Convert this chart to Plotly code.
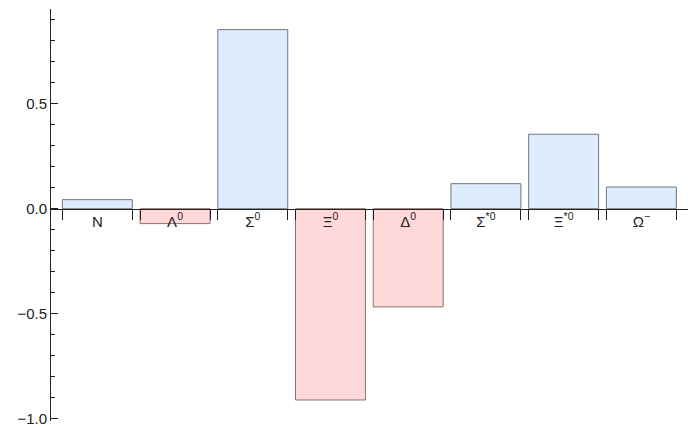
import plotly.graph_objects as go

# particle labels and values
labels = ["N", "Λ<sup>0</sup>", "Σ<sup>0</sup>", "Ξ<sup>0</sup>", "Δ<sup>0</sup>",
          "Σ<sup>*0</sup>", "Ξ<sup>*0</sup>", "Ω<sup>−</sup>"]
values = [0.043, -0.071, 0.852, -0.910, -0.467, 0.119, 0.354, 0.103]

pos_fill = "rgb(222,237,253)"
neg_fill = "rgb(255,216,218)"
bar_w = 0.9
y_min, y_max = -1.01, 0.95
x_rng = [-0.596, 7.60]

xs = list(range(len(values)))
fills = [pos_fill if v >= 0 else neg_fill for v in values]
edge_cols = ["rgb(110,118,128)" if v >= 0 else "rgb(140,112,112)" for v in values]
edges = []
for i in xs:
    edges += [i - bar_w / 2, i + bar_w / 2]

zero_pos = (0 - y_min) / (y_max - y_min)
font = dict(family="Liberation Sans, Arial, sans-serif", size=15, color="#222")

fig = go.Figure()
fig.add_trace(go.Bar(
    x=xs, y=values, width=bar_w,
    marker=dict(color=fills, line=dict(color=edge_cols, width=1)),
    hoverinfo="skip",
))

fig.update_layout(
    template="none",
    width=693, height=428,
    margin=dict(l=51, r=5, t=9, b=7),
    paper_bgcolor="white", plot_bgcolor="white",
    showlegend=False,
    font=font,
    xaxis=dict(
        range=x_rng, anchor="free", position=zero_pos,
        showline=True, linecolor="#222", linewidth=1,
        tickmode="array", tickvals=edges, showticklabels=False,
        ticks="outside", ticklen=10, tickcolor="#222",
        showgrid=False, zeroline=False, automargin=False,
    ),
    xaxis2=dict(
        range=x_rng, overlaying="x", anchor="free", position=zero_pos, side="bottom",
        tickmode="array", tickvals=xs, ticktext=labels,
        ticks="", showline=False, showgrid=False, zeroline=False,
        ticklabelstandoff=2, automargin=False, tickfont=font,
    ),
    yaxis=dict(
        range=[y_min, y_max],
        showline=True, linecolor="#222", linewidth=1,
        tickmode="linear", tick0=0, dtick=0.5, tickformat=".1f",
        ticks="inside", ticklen=7, tickcolor="#222",
        minor=dict(ticks="inside", ticklen=4, dtick=0.1, tick0=0, tickcolor="#222", showgrid=False),
        showgrid=False, zeroline=False, automargin=False, tickfont=font,
    ),
)
# dummy trace so xaxis2 is drawn
fig.add_trace(go.Scatter(x=[xs[0]], y=[0], xaxis="x2", mode="markers",
                         marker=dict(opacity=0), hoverinfo="skip"))

fig.write_html("out.html", config={"displayModeBar": False},
               post_script="document.body.style.margin='0';")
